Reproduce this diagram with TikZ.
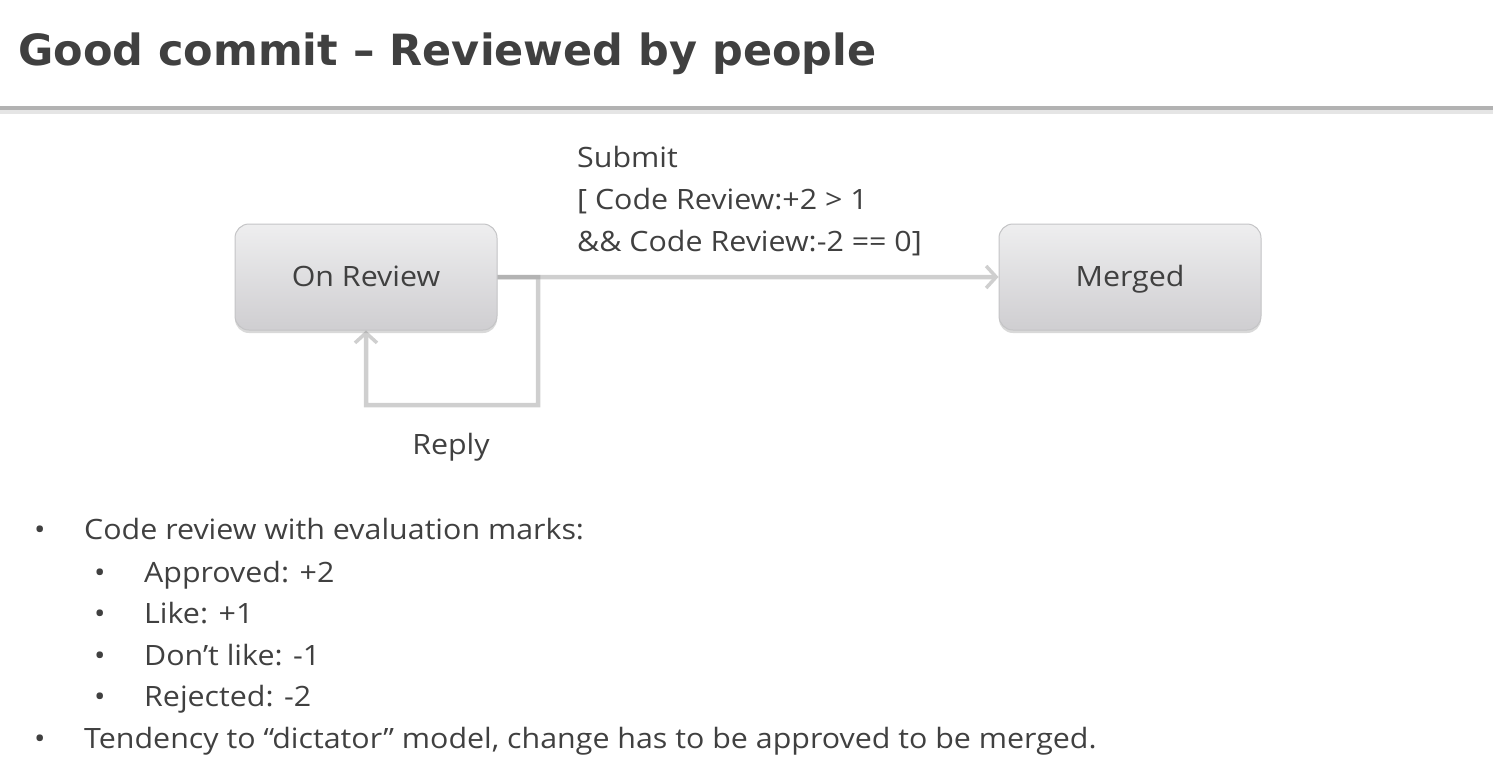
\documentclass[tikz,border=0pt]{standalone}
\usepackage{fontspec}
\setmainfont{Open Sans}[FakeStretch=1.085]
\newfontfamily\titlefont{DejaVu Sans}
\usetikzlibrary{arrows.meta,shadows,positioning}
\definecolor{txt}{HTML}{404040}
\definecolor{conn}{HTML}{8C8C8C}
\definecolor{boxtop}{HTML}{EEEEEF}
\definecolor{boxbot}{HTML}{CFCED1}
\definecolor{boxedge}{HTML}{C4C4C6}
\tikzset{
  state/.style={rounded corners=14pt, minimum width=262pt, minimum height=106pt,
    top color=boxtop, bottom color=boxbot, draw=boxedge, line width=1pt,
    text=txt, font=\fontsize{28}{32}\selectfont, text height=22pt, text depth=4pt,
    drop shadow={shadow xshift=0pt, shadow yshift=-3pt, opacity=0.25, fill=black!60}},
  conn/.style={draw=conn, line width=4.5pt, -{Straight Barb[length=10pt,width=22pt,line width=3.5pt]}},
  lbl/.style={text=txt, font=\fontsize{28}{32}\selectfont, inner sep=0pt, anchor=base west},
  bul/.style={text=txt, font=\fontsize{28}{32}\selectfont, inner sep=0pt, anchor=base west},
}
\begin{document}
\begin{tikzpicture}[x=1pt,y=-1pt]
\useasboundingbox (0,0) rectangle (1493,758);
% title
\node[inner sep=0pt, anchor=base west, text=txt, font=\titlefont\bfseries\fontsize{43}{50}\selectfont] (title) at (18,65) {Good commit – Reviewed by people};
% rule
\fill[black!10] (0,109) rectangle (1493,114);
\fill[black!30] (0,106) rectangle (1493,110);
% states
\node[state] (rev) at (366,277) {On Review};
\node[state] (mer) at (1130,277) {Merged};
\coordinate (j) at (538,277);
\coordinate (jd) at (538,405);
\coordinate (ld) at (366,405);
\begin{scope}[transparency group, opacity=0.42]
\draw[conn] (rev.east) -- (mer.west);
\end{scope}
\begin{scope}[transparency group, opacity=0.42]
\draw[conn] (rev.east) -- (j) -- (jd) -- (ld) -- (rev.south);
\end{scope}
% labels
\node[lbl] (s1) at (577,167) {Submit};
\node[lbl] (s2) at (577,209) {[ Code Review:+2 > 1};
\node[lbl] (s3) at (577,251) {\&\& Code Review:-2 == 0]};
\node[lbl, anchor=base] (reply) at (451,454) {Reply};
% bullets
\node[bul] (b1) at (34,539) {•};
\node[bul] (t1) at (84,539) {Code review with evaluation marks:};
\node[bul] (b2) at (94,582) {•};
\node[bul] (t2) at (144,582) {Approved: +2};
\node[bul] (b3) at (94,623) {•};
\node[bul] (t3) at (144,623) {Like: +1};
\node[bul] (b4) at (94,665) {•};
\node[bul] (t4) at (144,665) {Don’t like: -1};
\node[bul] (b5) at (94,706) {•};
\node[bul] (t5) at (144,706) {Rejected: -2};
\node[bul] (b6) at (34,748) {•};
\node[bul] (t6) at (84,748) {Tendency to “dictator” model, change has to be approved to be merged.};
\end{tikzpicture}
\end{document}
